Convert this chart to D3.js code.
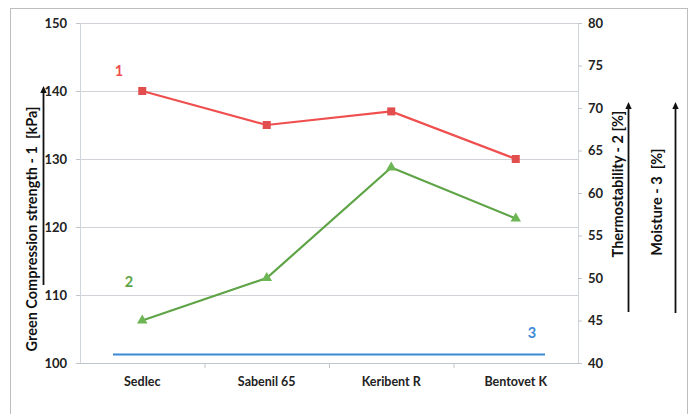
<!DOCTYPE html>
<html>
<head>
<meta charset="utf-8">
<script src="https://cdn.jsdelivr.net/npm/d3@7"></script>
<style>
  body { margin: 0; background: #fff; }
  svg text { font-family: Lato, "Open Sans", sans-serif; font-weight: bold; }
</style>
</head>
<body>
<div id="chart"></div>
<script>
let categories = ["Sedlec", "Sabenil 65", "Keribent R", "Bentovet K"]
let strength = [140, 135, 137, 130]      // 1 - left axis [kPa]
let thermo = [45, 50, 63, 57]            // 2 - right axis [%]
let moisture = [41, 41, 41, 41]          // 3 - right axis [%]
let leftTicks = [100, 110, 120, 130, 140, 150]
let rightTicks = [40, 45, 50, 55, 60, 65, 70, 75, 80]

let width = 694,
  height = 414,
  margin = { top: 23, right: 116, bottom: 51, left: 80 }

let svg = d3.select("#chart").append("svg")
  .attr("width", width)
  .attr("height", height)

// outer frame
svg.append("rect")
  .attr("x", 10.5).attr("y", 8.5)
  .attr("width", 677).attr("height", 420)
  .attr("fill", "none").attr("stroke", "#bdbdbd")

let x = d3.scaleBand()
  .domain(categories)
  .range([margin.left, width - margin.right])

let yL = d3.scaleLinear().domain([100, 150]).range([height - margin.bottom, margin.top])
let yR = d3.scaleLinear().domain([40, 80]).range([height - margin.bottom, margin.top])

let cx = d => x(d) + x.bandwidth() / 2

// grid
svg.append("g").selectAll("line")
  .data(leftTicks)
  .enter().append("line")
  .attr("x1", margin.left).attr("x2", width - margin.right)
  .attr("y1", d => yL(d) + 0.5).attr("y2", d => yL(d) + 0.5)
  .attr("stroke", "#cfd3d8")

// plot area side lines
svg.append("line")
  .attr("x1", margin.left + 0.5).attr("x2", margin.left + 0.5)
  .attr("y1", margin.top).attr("y2", height - margin.bottom)
  .attr("stroke", "#cfd6de")
svg.append("line")
  .attr("x1", width - margin.right + 0.5).attr("x2", width - margin.right + 0.5)
  .attr("y1", margin.top).attr("y2", height - margin.bottom)
  .attr("stroke", "#cfd6de")

// left axis
let leftAxis = svg.append("g")
  .attr("transform", "translate(" + margin.left + ",0)")
  .call(d3.axisLeft(yL).tickValues(leftTicks).tickSize(4).tickPadding(9))
leftAxis.select(".domain").remove()
leftAxis.selectAll("line").attr("stroke", "#bfc5cc")
leftAxis.selectAll("text").attr("font-size", 13).attr("fill", "#222")
  .attr("font-family", "Lato, sans-serif").attr("font-weight", "900")

// right axis
let rightAxis = svg.append("g")
  .attr("transform", "translate(" + (width - margin.right) + ",0)")
  .call(d3.axisRight(yR).tickValues(rightTicks).tickSize(4).tickPadding(6))
rightAxis.select(".domain").remove()
rightAxis.selectAll("line").attr("stroke", "#bfc5cc")
rightAxis.selectAll("text").attr("font-size", 13).attr("fill", "#222")
  .attr("font-family", "Lato, sans-serif").attr("font-weight", "900")

// x axis
let xAxis = svg.append("g")
  .attr("transform", "translate(0," + (height - margin.bottom) + ")")
xAxis.append("line")
  .attr("x1", margin.left - 4).attr("x2", width - margin.right + 4)
  .attr("y1", 0.5).attr("y2", 0.5)
  .attr("stroke", "#bfc5cc")
xAxis.selectAll(".tk")
  .data(categories.slice(1))
  .enter().append("line")
  .attr("x1", d => x(d) + 0.5).attr("x2", d => x(d) + 0.5)
  .attr("y1", 0).attr("y2", 5)
  .attr("stroke", "#bfc5cc")
xAxis.selectAll("text")
  .data(categories)
  .enter().append("text")
  .attr("x", cx).attr("y", 23)
  .attr("text-anchor", "middle")
  .attr("font-size", 12.5)
  .attr("font-weight", "900")
  .attr("fill", "#222")
  .text(d => d)

// series 3 - moisture (flat line)
let step = x.step()
let mx = d3.scaleLinear().domain([0, categories.length - 1])
  .range([cx(categories[0]) - 0.235 * step, cx(categories[categories.length - 1]) + 0.235 * step])
svg.append("path")
  .datum(moisture)
  .attr("fill", "none")
  .attr("stroke", "#3b8ad6")
  .attr("stroke-width", 2.2)
  .attr("d", d3.line().x((d, i) => mx(i)).y(d => yR(d)))

// series 2 - thermostability
svg.append("path")
  .datum(thermo)
  .attr("fill", "none")
  .attr("stroke", "#5ea447")
  .attr("stroke-width", 2.2)
  .attr("d", d3.line().x((d, i) => cx(categories[i])).y(d => yR(d)))
svg.append("g").selectAll("path")
  .data(thermo)
  .enter().append("path")
  .attr("transform", (d, i) => "translate(" + cx(categories[i]) + "," + yR(d) + ")")
  .attr("d", d3.symbol().type(d3.symbolTriangle).size(48))
  .attr("fill", "#6db655")

// series 1 - green compression strength
svg.append("path")
  .datum(strength)
  .attr("fill", "none")
  .attr("stroke", "#ef4f4f")
  .attr("stroke-width", 2.2)
  .attr("d", d3.line().x((d, i) => cx(categories[i])).y(d => yL(d)))
svg.append("g").selectAll("rect")
  .data(strength)
  .enter().append("rect")
  .attr("x", (d, i) => cx(categories[i]) - 4)
  .attr("y", d => yL(d) - 4)
  .attr("width", 8).attr("height", 8)
  .attr("fill", "#e24d4d")

// series numbers
svg.append("text").attr("x", 119).attr("y", 76).attr("text-anchor", "middle")
  .attr("font-size", 14.5).attr("font-weight", "900").attr("fill", "#ef4f4f").text("1")
svg.append("text").attr("x", 129).attr("y", 287).attr("text-anchor", "middle")
  .attr("font-size", 14.5).attr("font-weight", "900").attr("fill", "#5ea447").text("2")
svg.append("text").attr("x", 532).attr("y", 338).attr("text-anchor", "middle")
  .attr("font-size", 14.5).attr("font-weight", "900").attr("fill", "#3b8ad6").text("3")

// axis titles with arrows
function title(xPos, yMid, label) {
  svg.append("text")
    .attr("transform", "translate(" + xPos + "," + yMid + ") rotate(-90)")
    .attr("text-anchor", "middle")
    .attr("font-size", 14.5)
    .attr("font-weight", "900")
    .attr("fill", "#111")
    .attr("xml:space", "preserve")
    .text(label)
}
function arrow(xPos, y1, y2) {
  svg.append("line")
    .attr("x1", xPos).attr("x2", xPos)
    .attr("y1", y1).attr("y2", y2 + 5)
    .attr("stroke", "#111").attr("stroke-width", 1.8)
  svg.append("path")
    .attr("d", d3.line()([[xPos, y2], [xPos - 3.2, y2 + 7], [xPos + 3.2, y2 + 7]]) + "Z")
    .attr("fill", "#111")
}
title(37, 229, "Green Compression strength - 1  [kPa]")
arrow(43.5, 285, 86)
title(623, 184, "Thermostability - 2 [%]")
arrow(628.5, 312, 102)
title(662, 202, "Moisture - 3  [%]")
arrow(675.5, 313, 102)
</script>
</body>
</html>
